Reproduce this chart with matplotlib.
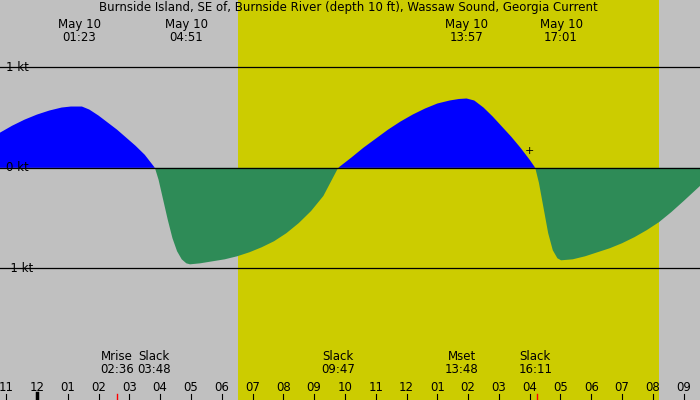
import matplotlib
matplotlib.use("Agg")
import matplotlib.pyplot as plt
import numpy as np

hours = [-1.2,-0.8,-0.4,0.0,0.4,0.8,1.1,1.46,1.7,2.0,2.3,2.6,2.9,3.2,3.5,3.83,
         3.95,4.1,4.25,4.4,4.55,4.7,4.85,4.97,5.3,5.7,6.1,6.5,6.9,7.3,7.7,8.1,8.5,8.9,9.3,9.78,
         10.2,10.6,11.0,11.4,11.8,12.2,12.6,13.0,13.4,13.7,13.95,14.2,14.5,14.8,15.1,15.4,15.7,16.0,16.18,
         16.3,16.45,16.6,16.75,16.9,17.02,17.4,17.8,18.2,18.6,19.0,19.4,19.8,20.2,20.6,21.0,21.53]
speed = [0.35,0.42,0.48,0.53,0.57,0.60,0.61,0.61,0.58,0.52,0.45,0.38,0.30,0.22,0.13,0.0,
         -0.12,-0.32,-0.52,-0.70,-0.83,-0.91,-0.95,-0.96,-0.95,-0.93,-0.91,-0.88,-0.84,-0.79,-0.73,-0.65,-0.55,-0.43,-0.28,0.0,
         0.10,0.20,0.29,0.38,0.46,0.53,0.59,0.64,0.67,0.685,0.69,0.67,0.60,0.51,0.41,0.31,0.20,0.08,0.0,
         -0.15,-0.40,-0.65,-0.82,-0.90,-0.92,-0.91,-0.88,-0.84,-0.80,-0.75,-0.69,-0.62,-0.54,-0.44,-0.33,-0.18]
tick_labels = ["11","12","01","02","03","04","05","06","07","08","09","10","11","12","01","02","03","04","05","06","07","08","09"]
top_events = [(1.38,"01:23"),(4.85,"04:51"),(13.95,"13:57"),(17.02,"17:01")]
bottom_events = [(2.6,"Mrise","02:36"),(3.8,"Slack","03:48"),(9.78,"Slack","09:47"),(13.8,"Mset","13:48"),(16.18,"Slack","16:11")]
sunrise, sunset = 6.53, 20.2

fig = plt.figure(figsize=(7,4), dpi=100)
ax = fig.add_axes([0,0,1,1])
ax.set_facecolor("#c0c0c0")
x0, x1 = -1.2, 21.53
ax.set_xlim(x0, x1); ax.set_ylim(-2.31, 1.67)
ax.axvspan(sunrise, sunset, color="#cccc00", lw=0)
h = np.array(hours); s = np.array(speed)
ax.fill_between(h, s, 0, where=s>=0, color="#0000ff", lw=0, interpolate=True)
ax.fill_between(h, s, 0, where=s<=0, color="#2e8b57", lw=0, interpolate=True)
for y in (1,0,-1):
    ax.axhline(y, color="black", lw=0.9)
for y,l in ((1,"1 kt"),(0,"0 kt"),(-1,"-1 kt")):
    ax.text(x0+0.2, y, l, fontsize=8.5, va="center", ha="left")
for i,l in enumerate(tick_labels):
    hh = -1+i
    ax.text(hh, -2.19, l, fontsize=8.5, ha="center", va="center", clip_on=False)
    ax.plot([hh,hh],[-2.31,-2.25], color="black", lw=0.8)
ax.plot([0,0],[-2.31,-2.24], color="black", lw=2.5)
for hh in (2.6,16.25):
    ax.plot([hh,hh],[-2.31,-2.25], color="red", lw=1)
for hh,t in top_events:
    ax.text(hh, 1.36, "May 10\n"+t, fontsize=8.5, ha="center", va="center", linespacing=0.95)
for hh,a,b in bottom_events:
    ax.text(hh, -1.94, a+"\n"+b, fontsize=8.5, ha="center", va="center", linespacing=0.95)
ax.text(16.0, 0.17, "+", fontsize=8, ha="center", va="center")
ax.text(10.1, 1.6, "Burnside Island, SE of, Burnside River (depth 10 ft), Wassaw Sound, Georgia Current",
        fontsize=8.5, ha="center", va="center")
ax.set_xticks([]); ax.set_yticks([])
for sp in ax.spines.values(): sp.set_visible(False)
fig.savefig("out.png", dpi=100)
